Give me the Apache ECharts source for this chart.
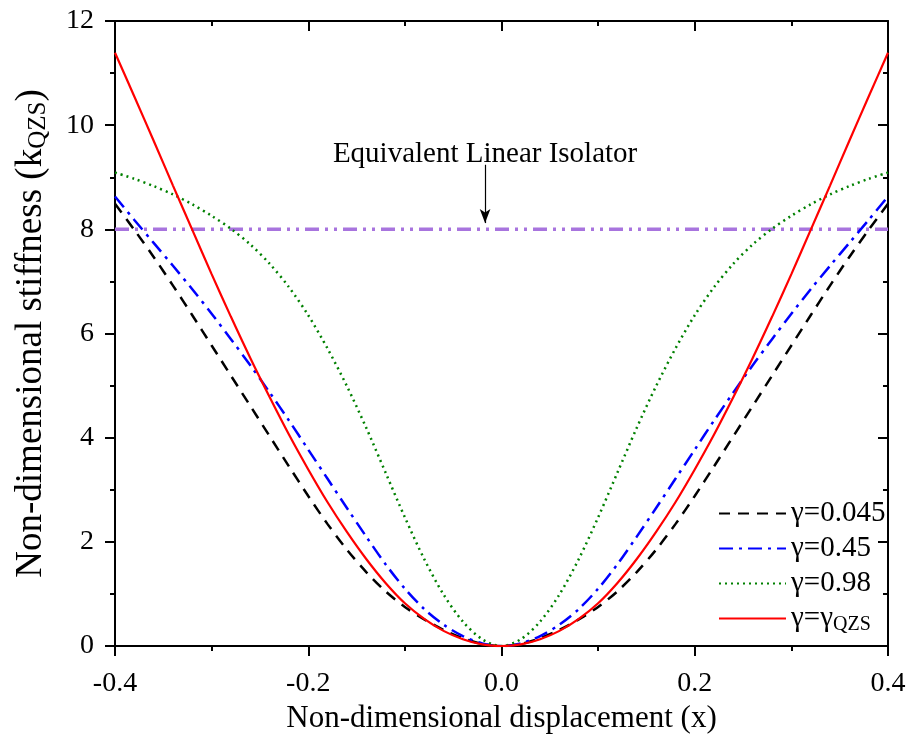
<!DOCTYPE html>
<html>
<head>
<meta charset="utf-8">
<script src="https://cdn.jsdelivr.net/npm/echarts@6/dist/echarts.min.js"></script>
<style>
  html, body { margin: 0; padding: 0; background: #fff; }
  #chart { width: 919px; height: 743px; }
</style>
</head>
<body>
<div id="chart"></div>
<script>
// Non-dimensional displacement samples (curves are symmetric about 0)
const xHalf = [0, 0.02, 0.04, 0.06, 0.08, 0.10, 0.12, 0.14, 0.16, 0.18, 0.20,
               0.22, 0.24, 0.26, 0.28, 0.30, 0.32, 0.34, 0.36, 0.38, 0.40];

// Stiffness for x >= 0, one list per gamma
const kGamma0045 = [0, 0.04, 0.15, 0.31, 0.51, 0.75, 1.05, 1.42, 1.85, 2.34, 2.88,
                    3.45, 4.03, 4.61, 5.19, 5.77, 6.35, 6.92, 7.47, 7.99, 8.49];
const kGamma045  = [0, 0.05, 0.19, 0.41, 0.71, 1.10, 1.57, 2.10, 2.65, 3.21, 3.77,
                    4.33, 4.87, 5.39, 5.89, 6.38, 6.85, 7.30, 7.74, 8.18, 8.63];
const kGamma098  = [0, 0.13, 0.47, 0.99, 1.67, 2.47, 3.33, 4.19, 4.99, 5.71, 6.35,
                    6.89, 7.34, 7.71, 8.01, 8.26, 8.48, 8.67, 8.83, 8.97, 9.09];
const kGammaQZS  = [0, 0.03, 0.13, 0.29, 0.52, 0.82, 1.21, 1.67, 2.19, 2.76, 3.39,
                    4.06, 4.78, 5.53, 6.32, 7.14, 7.99, 8.84, 9.70, 10.55, 11.39];

// Equivalent linear isolator stiffness
const kLinear = 8;

const xTicks = [-0.4, -0.2, 0.0, 0.2, 0.4];
const yTicks = [0, 2, 4, 6, 8, 10, 12];

const legendNames = ['γ=0.045', 'γ=0.45', 'γ=0.98', 'γ=γQZS'];

// Mirror the x >= 0 half onto x < 0
function fullCurve(half) {
  const pts = [];
  for (let i = xHalf.length - 1; i > 0; i--) pts.push([-xHalf[i], half[i]]);
  for (let i = 0; i < xHalf.length; i++) pts.push([xHalf[i], half[i]]);
  return pts;
}

const FONT = 'Liberation Serif';
const chart = echarts.init(document.getElementById('chart'), null, { renderer: 'canvas' });

const tickStyle = { width: 2, color: '#000' };
const frameLine = { show: true, onZero: false, lineStyle: { color: '#000', width: 2 } };

const option = {
  backgroundColor: '#fff',
  animation: false,
  textStyle: { fontFamily: FONT },
  grid: { left: 115, right: 31, top: 21, bottom: 97 },
  xAxis: [
    {
      type: 'value', min: xTicks[0], max: xTicks[xTicks.length - 1], interval: 0.2,
      position: 'bottom',
      name: 'Non-dimensional displacement (x)',
      nameLocation: 'middle', nameGap: 49,
      nameTextStyle: { fontFamily: FONT, fontSize: 31, color: '#000' },
      axisLine: frameLine,
      splitLine: { show: false },
      axisTick: { show: true, inside: false, length: 10, lineStyle: tickStyle },
      minorTick: { show: true, splitNumber: 2, length: 5, lineStyle: tickStyle },
      axisLabel: { fontFamily: FONT, fontSize: 28, color: '#000', margin: 24,
                   formatter: v => v.toFixed(1) }
    },
    {
      type: 'value', min: xTicks[0], max: xTicks[xTicks.length - 1], interval: 0.2,
      position: 'top',
      axisLine: frameLine,
      splitLine: { show: false },
      axisTick: { show: true, inside: true, length: 10, lineStyle: tickStyle },
      minorTick: { show: true, splitNumber: 2, length: 5, lineStyle: tickStyle },
      axisLabel: { show: false }
    }
  ],
  yAxis: [
    {
      type: 'value', min: yTicks[0], max: yTicks[yTicks.length - 1], interval: 2,
      position: 'left',
      name: '{n|Non-dimensional stiffness (k}{s|QZS}{n|)}',
      nameLocation: 'middle', nameGap: 64,
      nameTextStyle: {
        fontFamily: FONT, color: '#000',
        rich: {
          n: { fontFamily: FONT, fontSize: 37, color: '#000' },
          s: { fontFamily: FONT, fontSize: 25, color: '#000', padding: [14, 0, 0, 0] }
        }
      },
      axisLine: frameLine,
      splitLine: { show: false },
      axisTick: { show: true, inside: false, length: 10, lineStyle: tickStyle },
      minorTick: { show: true, splitNumber: 2, length: 5, lineStyle: tickStyle },
      axisLabel: { fontFamily: FONT, fontSize: 28, color: '#000', margin: 21 }
    },
    {
      type: 'value', min: yTicks[0], max: yTicks[yTicks.length - 1], interval: 2,
      position: 'right',
      axisLine: frameLine,
      splitLine: { show: false },
      axisTick: { show: true, inside: true, length: 10, lineStyle: tickStyle },
      minorTick: { show: true, splitNumber: 2, length: 5, lineStyle: tickStyle },
      axisLabel: { show: false }
    }
  ],
  legend: {
    data: legendNames,
    orient: 'vertical',
    left: 713, top: 494,
    itemWidth: 67, itemHeight: 14, itemGap: 6,
    itemStyle: { opacity: 0 },
    formatter: name => name === 'γ=γQZS' ? '{n|γ=γ}{s|QZS}' : name,
    textStyle: {
      fontFamily: FONT, fontSize: 29, color: '#000',
      rich: {
        n: { fontFamily: FONT, fontSize: 29, color: '#000' },
        s: { fontFamily: FONT, fontSize: 20, color: '#000', padding: [12, 0, 0, 0] }
      }
    }
  },
  series: [
    {
      name: 'Equivalent Linear Isolator', type: 'line', symbol: 'none',
      data: [[xTicks[0], kLinear], [xTicks[xTicks.length - 1], kLinear]],
      lineStyle: { color: '#A874DE', width: 3.5, type: [14, 6, 3, 6, 3, 6] },
      z: 1,
      markLine: {
        silent: true, symbol: ['none', 'arrow'], symbolSize: [8, 14],
        lineStyle: { color: '#000', width: 1.2, type: 'solid' },
        label: { show: false },
        data: [[{ coord: [-0.017, 9.24] }, { coord: [-0.017, 8.12] }]]
      },
      markPoint: {
        silent: true, symbol: 'circle', symbolSize: 0,
        label: { show: true, position: 'inside', formatter: 'Equivalent Linear Isolator',
                 fontFamily: FONT, fontSize: 29, color: '#000' },
        data: [{ coord: [-0.017, 9.44] }]
      }
    },
    {
      name: 'γ=0.045', type: 'line', symbol: 'none', smooth: 0.3,
      data: fullCurve(kGamma0045),
      lineStyle: { color: '#000', width: 2.5, type: [11, 8] },
      itemStyle: { color: '#000' }
    },
    {
      name: 'γ=0.45', type: 'line', symbol: 'none', smooth: 0.3,
      data: fullCurve(kGamma045),
      lineStyle: { color: '#0000FF', width: 2.5, type: [14, 6, 3, 6] },
      itemStyle: { color: '#0000FF' }
    },
    {
      name: 'γ=0.98', type: 'line', symbol: 'none', smooth: 0.3,
      data: fullCurve(kGamma098),
      lineStyle: { color: '#008000', width: 2.5, type: [2, 4] },
      itemStyle: { color: '#008000' }
    },
    {
      name: 'γ=γQZS', type: 'line', symbol: 'none', smooth: 0.3,
      data: fullCurve(kGammaQZS),
      lineStyle: { color: '#FF0000', width: 2.2, type: 'solid' },
      itemStyle: { color: '#FF0000' }
    }
  ]
};

chart.setOption(option);
</script>
</body>
</html>
